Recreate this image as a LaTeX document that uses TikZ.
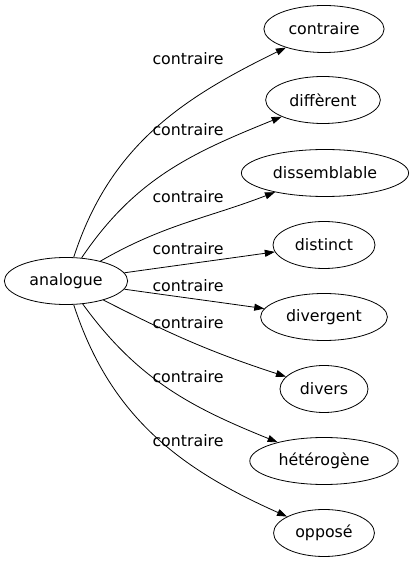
\documentclass[tikz,border=0pt]{standalone}
\usepackage{fontspec}
\setmainfont{DejaVu Sans}
\usetikzlibrary{shapes.geometric,arrows.meta}

\tikzset{
  word/.style={draw, ellipse, inner xsep=7pt, minimum height=47pt},
  rel/.style={inner sep=0pt},
  link/.style={-{Triangle[length=10pt,width=7pt]}}
}

\begin{document}
\begin{tikzpicture}[x=1pt, y=1pt, line width=0.8pt, font=\fontsize{15.8}{19}\selectfont]

  \useasboundingbox (0, 0) rectangle (411, 563);

  \node[word] (analogue) at (66, 282) {analogue};
  \node[word] (contraire) at (324, 534) {contraire};
  \node[word] (different) at (323, 463) {diffèrent};
  \node[word] (dissemblable) at (325, 390) {dissemblable};
  \node[word] (distinct) at (324, 318) {distinct};
  \node[word] (divergent) at (324, 246) {divergent};
  \node[word] (divers) at (324, 174) {divers};
  \node[word] (heterogene) at (324, 102) {hétérogène};
  \node[word] (oppose) at (324, 30) {opposé};

  \node[rel] (lab1) at (188, 504) {contraire};
  \node[rel] (lab2) at (188, 433) {contraire};
  \node[rel] (lab3) at (188, 366) {contraire};
  \node[rel] (lab4) at (188, 314) {contraire};
  \node[rel] (lab5) at (188, 277) {contraire};
  \node[rel] (lab6) at (188, 240) {contraire};
  \node[rel] (lab7) at (188, 186) {contraire};
  \node[rel] (lab8) at (188, 122) {contraire};

  \draw (analogue) edge[link, out=72, in=206] (contraire);
  \draw (analogue) edge[link, out=56, in=202] (different);
  \draw (analogue) edge[link, out=30, in=201] (dissemblable);
  \draw (analogue) edge[link, out=8, in=188] (distinct);
  \draw (analogue) edge[link, out=-8, in=172] (divergent);
  \draw (analogue) edge[link, out=-27, in=162] (divers);
  \draw (analogue) edge[link, out=-54, in=158] (heterogene);
  \draw (analogue) edge[link, out=-72, in=156] (oppose);

\end{tikzpicture}
\end{document}
